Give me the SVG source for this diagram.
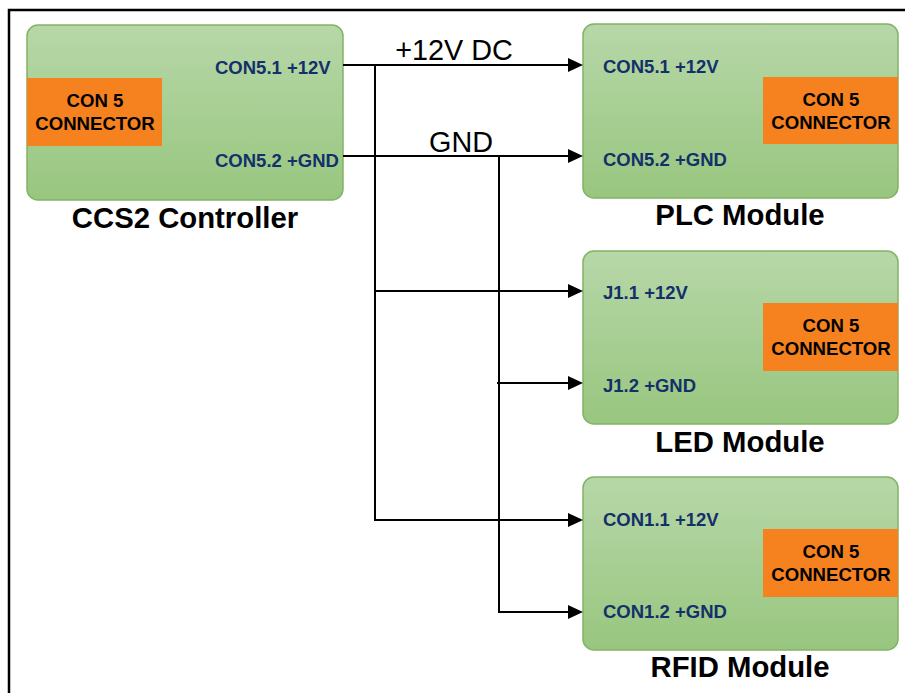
<svg xmlns="http://www.w3.org/2000/svg" width="905" height="693" viewBox="0 0 905 693">
<defs>
<linearGradient id="g" x1="0" y1="0" x2="0" y2="1">
<stop offset="0" stop-color="#b7d7a8"/>
<stop offset="1" stop-color="#98c67f"/>
</linearGradient>
<marker id="arr" markerUnits="userSpaceOnUse" markerWidth="16" markerHeight="14" refX="2" refY="7" orient="auto">
<path d="M0,0 L15,7 L0,14 z" fill="#000"/>
</marker>
<style>
.box{fill:url(#g);stroke:#82b366;stroke-width:1.5}
.org{fill:#f5821f}
.ot{font-family:"Liberation Sans",Arial,sans-serif;font-weight:bold;font-size:18.6px;fill:#000;text-anchor:middle}
.pin{font-family:"Liberation Sans",Arial,sans-serif;font-weight:bold;font-size:18.5px;fill:#14306a}
.title{font-family:"Liberation Sans",Arial,sans-serif;font-weight:bold;font-size:29.3px;fill:#000;text-anchor:middle}
.net{font-family:"Liberation Sans",Arial,sans-serif;font-size:28.8px;fill:#000;text-anchor:middle}
.w{fill:none;stroke:#000;stroke-width:2}
</style>
</defs>
<rect x="0" y="0" width="905" height="693" fill="#fff"/>
<rect x="9" y="10" width="920" height="720" fill="none" stroke="#000" stroke-width="2.5"/>

<g id="ccs2">
<rect class="box" x="27" y="25" width="316" height="175" rx="11"/>
<rect class="org" x="27" y="78" width="135" height="68"/>
<text class="ot" x="95" y="107">CON 5</text>
<text class="ot" x="95" y="130">CONNECTOR</text>
<text class="pin" x="215" y="74">CON5.1 +12V</text>
<text class="pin" x="215" y="167">CON5.2 +GND</text>
<text class="title" x="185" y="228">CCS2 Controller</text>
</g>

<g id="plc">
<rect class="box" x="583" y="24" width="315" height="174" rx="11"/>
<rect class="org" x="763" y="77" width="135" height="67"/>
<text class="ot" x="831" y="106">CON 5</text>
<text class="ot" x="831" y="129">CONNECTOR</text>
<text class="pin" x="603" y="73">CON5.1 +12V</text>
<text class="pin" x="603" y="166">CON5.2 +GND</text>
<text class="title" x="740" y="225">PLC Module</text>
</g>

<g id="led">
<rect class="box" x="583" y="251" width="315" height="173" rx="11"/>
<rect class="org" x="763" y="303" width="135" height="68"/>
<text class="ot" x="831" y="332">CON 5</text>
<text class="ot" x="831" y="355">CONNECTOR</text>
<text class="pin" x="603" y="299">J1.1 +12V</text>
<text class="pin" x="603" y="392">J1.2 +GND</text>
<text class="title" x="740" y="452">LED Module</text>
</g>

<g id="rfid">
<rect class="box" x="583" y="477" width="315" height="173" rx="11"/>
<rect class="org" x="763" y="529" width="135" height="68"/>
<text class="ot" x="831" y="558">CON 5</text>
<text class="ot" x="831" y="581">CONNECTOR</text>
<text class="pin" x="603" y="526">CON1.1 +12V</text>
<text class="pin" x="603" y="618">CON1.2 +GND</text>
<text class="title" x="740" y="677">RFID Module</text>
</g>

<g id="connectors">
<path class="w" d="M343,65 H570" marker-end="url(#arr)"/>
<path class="w" d="M375,65 V520 H570" marker-end="url(#arr)"/>
<path class="w" d="M375,291 H570" marker-end="url(#arr)"/>
<path class="w" d="M343,156 H570" marker-end="url(#arr)"/>
<path class="w" d="M499,156 V612 H570" marker-end="url(#arr)"/>
<path class="w" d="M497,383 H570" marker-end="url(#arr)"/>
<text class="net" x="454" y="60">+12V DC</text>
<text class="net" x="461" y="152">GND</text>
</g>
</svg>
